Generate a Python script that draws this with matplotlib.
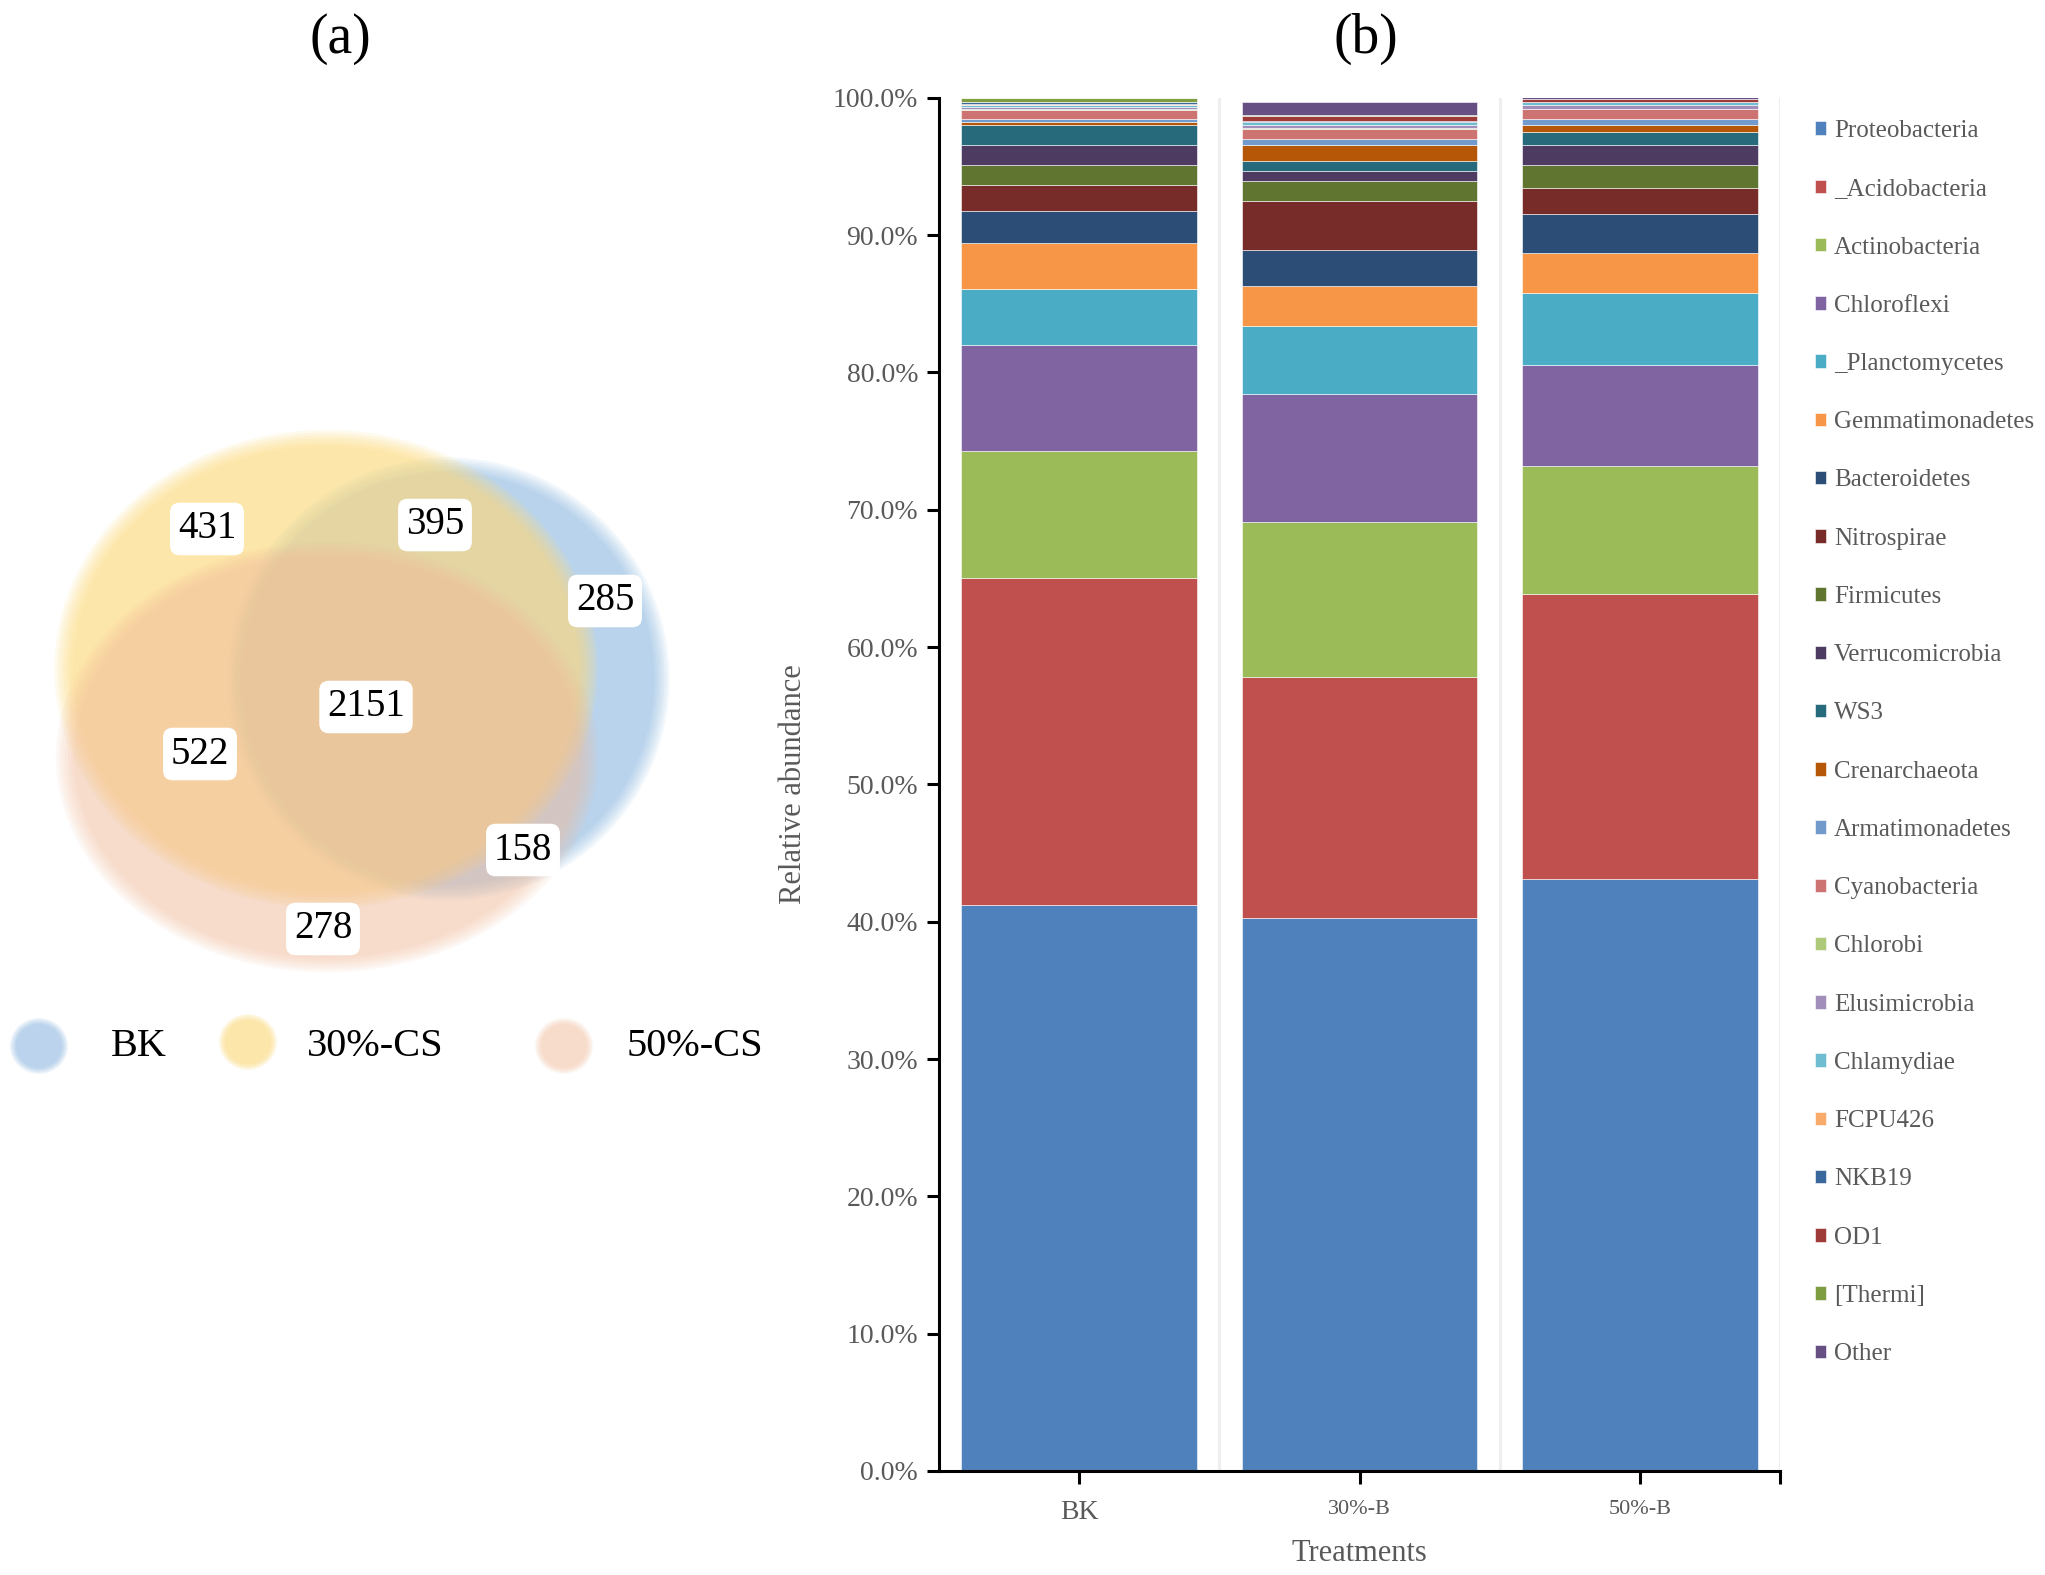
import numpy as np
import matplotlib.pyplot as plt
from matplotlib.patches import Ellipse, Patch
from matplotlib.ticker import FuncFormatter

plt.rcParams['font.family'] = ['Liberation Serif', 'DejaVu Serif']

# ---------------- data ----------------
# Venn counts: 30%-CS only, 30%-CS & BK, BK only, all three, 30%-CS & 50%-CS, BK & 50%-CS, 50%-CS only
venn_counts = [431, 395, 285, 2151, 522, 158, 278]
venn_sets = ['BK', '30%-CS', '50%-CS']

treatments = ['BK', '30%-B', '50%-B']
phyla = ['Proteobacteria', '_Acidobacteria', 'Actinobacteria', 'Chloroflexi',
         '_Planctomycetes', 'Gemmatimonadetes', 'Bacteroidetes', 'Nitrospirae',
         'Firmicutes', 'Verrucomicrobia', 'WS3', 'Crenarchaeota',
         'Armatimonadetes', 'Cyanobacteria', 'Chlorobi', 'Elusimicrobia',
         'Chlamydiae', 'FCPU426', 'NKB19', 'OD1', '[Thermi]', 'Other']
# relative abundance (%) per treatment, same order as phyla
bk_vals = [41.2, 23.8, 9.3, 7.7, 4.07, 3.35, 2.35, 1.9, 1.43, 1.45, 1.44, 0.21,
           0.25, 0.68, 0.02, 0.19, 0.15, 0.02, 0.19, 0.02, 0.24, 0.05]
b30_vals = [40.25, 17.6, 11.25, 9.3, 5.0, 2.86, 2.64, 3.6, 1.4, 0.73, 0.73, 1.17,
            0.48, 0.73, 0.02, 0.23, 0.24, 0.02, 0.02, 0.42, 0.02, 0.95]
b50_vals = [43.1, 20.77, 9.3, 7.38, 5.23, 2.91, 2.86, 1.85, 1.72, 1.43, 0.97, 0.49,
            0.44, 0.72, 0.02, 0.25, 0.24, 0.02, 0.02, 0.2, 0.02, 0.15]

colors = ['#4F81BD', '#C0504D', '#9BBB59', '#8064A2', '#4BACC6', '#F79646',
          '#2C4D75', '#772C2A', '#5F7530', '#4D3B62', '#276A7C', '#B65708',
          '#729ACA', '#CD7371', '#AFC97A', '#A28EBB', '#6FBDD1', '#F9AB6B',
          '#3A679C', '#9E3B38', '#7E9D40', '#664F82']

gray = '#595959'

fig = plt.figure(figsize=(20.45, 15.75), dpi=100)

# ---------------- (a) Venn ----------------
W = 0.45 * 2045
axv = fig.add_axes([0, 0, 0.45, 1])
axv.set_xlim(0, W)
axv.set_ylim(1575, 0)
axv.axis('off')


def soft_ellipse(ax, cx, cy, w, h, color, n=7, spread=0.035, total=0.5):
    a = 1 - (1 - total) ** (1.0 / n)
    for s in np.linspace(1 - spread, 1 + spread, n):
        ax.add_patch(Ellipse((cx, cy), w * s, h * s, facecolor=color,
                             edgecolor='none', alpha=a))


set_colors = ['#7BADDD', '#FDDC80', '#F3BD9B']
set_alpha = [0.5, 0.65, 0.5]
# ellipses in pixel units: centre x, centre y, width, height
soft_ellipse(axv, 448, 679, 428, 428, set_colors[0], total=set_alpha[0])
soft_ellipse(axv, 326, 669, 525, 462, set_colors[1], total=set_alpha[1])
soft_ellipse(axv, 327, 757, 524, 416, set_colors[2], total=set_alpha[2])

label_xy = [(207, 529), (435, 525), (605, 601), (366, 707), (200, 754),
            (523, 850), (323, 929)]
for n, (x, y) in zip(venn_counts, label_xy):
    axv.text(x, y, str(n), fontsize=28, ha='center', va='center', color='black',
             zorder=4,
             bbox=dict(boxstyle='round,pad=0.2,rounding_size=0.25', fc='white',
                       ec='none'))

leg_xy = [(39, 1046), (248, 1042), (564, 1046)]
leg_txt_x = [111, 307, 627]
for (x, y), tx, name, c, al in zip(leg_xy, leg_txt_x, venn_sets, set_colors, set_alpha):
    soft_ellipse(axv, x, y, 52, 50, c, n=6, spread=0.12, total=al)
    axv.text(tx, 1046, name, fontsize=29, ha='left', va='center', color='black')

fig.text(340 / 2045, 1 - 39 / 1575, '(a)', fontsize=40, ha='center', va='center')
fig.text(1366 / 2045, 1 - 39 / 1575, '(b)', fontsize=40, ha='center', va='center')

# ---------------- (b) stacked bars ----------------
ax = fig.add_axes([939 / 2045, 1 - 1471 / 1575, (1780 - 939) / 2045, (1471 - 97.7) / 1575])
x = np.arange(len(treatments))
data = np.array([bk_vals, b30_vals, b50_vals]).T
bottom = np.zeros(len(treatments))
for name, vals, c in zip(phyla, data, colors):
    ax.bar(x, vals, 0.84, bottom=bottom, color=c, edgecolor='white',
           linewidth=0.4, label=name, zorder=2)
    bottom += vals

for gx in [0.5, 1.5, 2.5]:
    ax.axvline(gx, color='#EFEFEF', lw=2.2, zorder=0)

ax.set_xlim(-0.5, 2.5)
ax.set_ylim(0, 100)
ax.set_yticks(np.arange(0, 101, 10))
ax.yaxis.set_major_formatter(FuncFormatter(lambda v, p: '%.1f%%' % v))
ax.set_xticks(x)
ax.set_xticklabels(treatments)
for lbl, fs in zip(ax.get_xticklabels(), [20, 16, 16]):
    lbl.set_fontsize(fs)
ax.set_xticks([2.5], minor=True)
ax.tick_params(axis='y', labelsize=20, labelcolor=gray, length=9, width=2.2,
               direction='out', pad=6)
ax.tick_params(axis='x', labelcolor=gray, length=9, width=2.2, direction='out', pad=12)
ax.tick_params(axis='x', which='minor', length=9, width=2.2)
for s in ['top', 'right']:
    ax.spines[s].set_visible(False)
for s in ['left', 'bottom']:
    ax.spines[s].set_linewidth(2.2)
    ax.spines[s].set_color('black')

ax.set_xlabel('Treatments', fontsize=22, color=gray, labelpad=10)
ax.set_ylabel('Relative abundance', fontsize=22, color=gray, labelpad=18)

handles = [Patch(facecolor=c, edgecolor='white', linewidth=0.4) for c in colors]
fig.legend(handles, phyla, loc='upper left', bbox_to_anchor=(1815 / 2045, 1 - 120 / 1575),
           frameon=False, fontsize=18, labelcolor=gray, handlelength=0.45,
           handleheight=0.45, handletextpad=0.3, labelspacing=1.45,
           borderpad=0, borderaxespad=0)

fig.savefig('out.png', dpi=100, facecolor='white')
